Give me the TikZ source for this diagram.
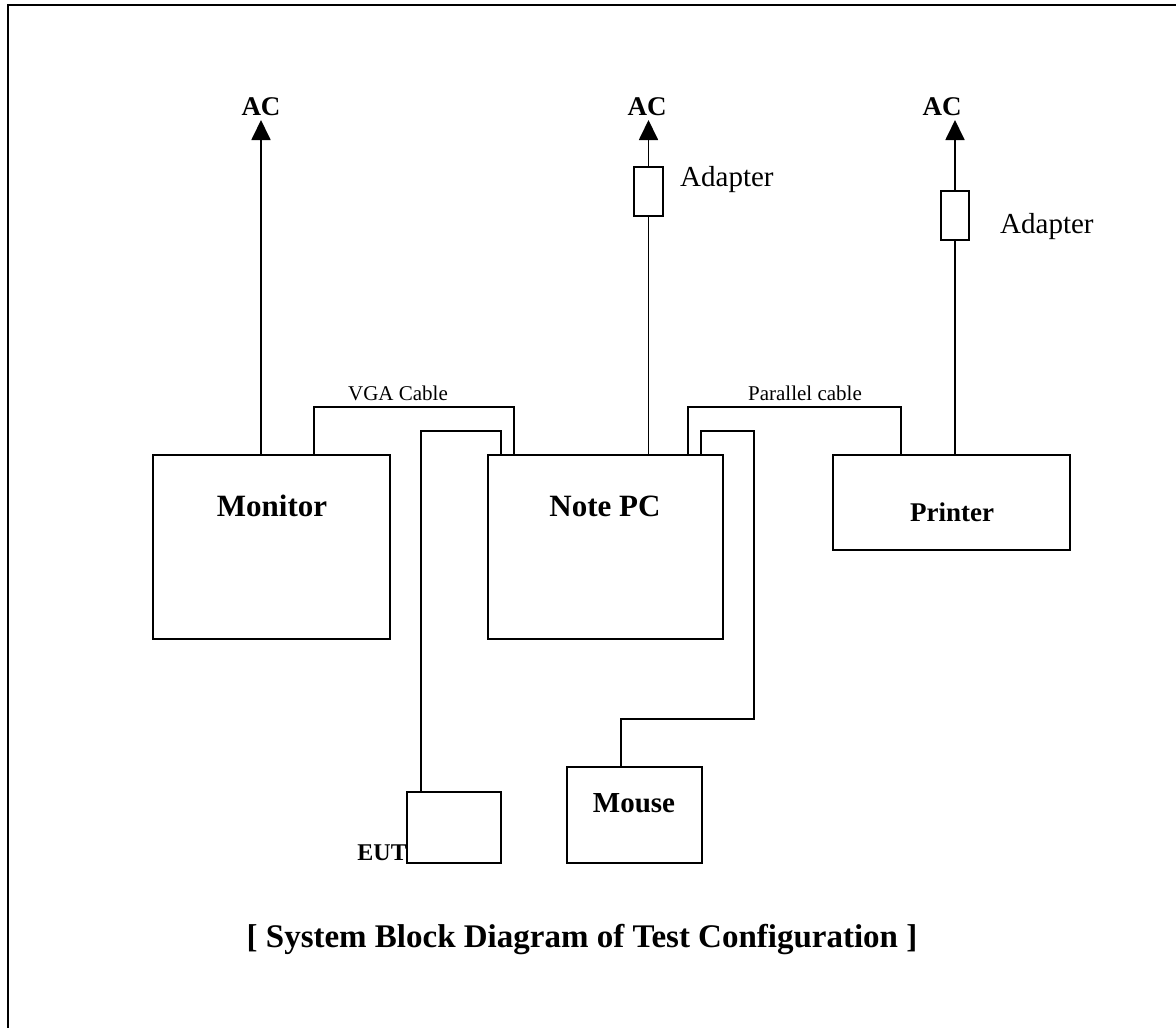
\documentclass[tikz,border=0pt]{standalone}
\usepackage{fontspec}
\setmainfont{Liberation Serif}
\usetikzlibrary{arrows.meta}
\begin{document}
\begin{tikzpicture}[x=1pt,y=-1pt,
  box/.style={draw,line width=1.8pt,inner sep=0pt,outer sep=0pt,anchor=north west},
  wire/.style={line width=1.8pt},
  power/.style={line width=1.8pt,-{Triangle[length=20pt,width=19pt]}},
  lbl/.style={inner sep=0pt},
  aclbl/.style={lbl,font=\fontsize{27}{30}\selectfont\bfseries},
  devlbl/.style={lbl,font=\fontsize{31}{34}\selectfont\bfseries},
  adlbl/.style={lbl,anchor=west,font=\fontsize{29}{32}\selectfont},
  cablbl/.style={lbl,font=\fontsize{21}{24}\selectfont}]
\useasboundingbox (0,0) rectangle (1176,1028);
\draw[line width=2pt] (7.5,1040) -- (7.5,5) -- (1190,5);
% boxes
\node[box,minimum width=237pt,minimum height=184pt] (mon) at (153,455) {};
\node[box,minimum width=235pt,minimum height=184pt] (pc) at (488,455) {};
\node[box,minimum width=237pt,minimum height=95pt] (prn) at (833,455) {};
\node[box,minimum width=94pt,minimum height=71pt] (eut) at (407,792) {};
\node[box,minimum width=135pt,minimum height=96pt] (mouse) at (567,767) {};
\node[box,minimum width=29pt,minimum height=49pt] (adpc) at (634,167) {};
\node[box,minimum width=28pt,minimum height=49pt] (adpr) at (941,191) {};
% labels
\node[devlbl] (tmon) at (272,506) {Monitor};
\node[devlbl] (tpc) at (605,506) {Note PC};
\node[devlbl,font=\fontsize{27}{30}\selectfont\bfseries] (tprn) at (952,512) {Printer};
\node[devlbl,font=\fontsize{29}{32}\selectfont\bfseries] (tmouse) at (634,803) {Mouse};
\node[lbl,anchor=south east,font=\fontsize{24}{27}\selectfont\bfseries] (teut) at (407,861) {EUT};
\node[adlbl] (tadpc) at (680,180) {Adapter};
\node[adlbl] (tadpr) at (1000,227) {Adapter};
\node[cablbl] (tvga) at (398,393) {VGA Cable};
\node[cablbl] (tpar) at (805,393) {Parallel cable};
% AC
\coordinate (acm) at (261,120);
\coordinate (acp) at (648.5,120);
\coordinate (acr) at (955,120);
\node[aclbl] (tacm) at (261,107) {AC};
\node[aclbl] (tacp) at (647,107) {AC};
\node[aclbl] (tacr) at (942,107) {AC};
% power wires
\draw[power] (mon.north -| acm) -- (acm);
\draw[wire] (pc.north -| adpc.south) -- (adpc.south);
\draw[power] (adpc.north) -- (acp);
\draw[wire] (prn.north -| adpr.south) -- (adpr.south);
\draw[power] (adpr.north) -- (acr);
% cables
\coordinate (vga1) at (314,407);
\coordinate (vga2) at (514,407);
\draw[wire] (mon.north -| vga1) -- (vga1) -- (vga2) -- (pc.north -| vga2);
\coordinate (eut1) at (421,431);
\coordinate (eut2) at (501,431);
\draw[wire] (eut.north -| eut1) -- (eut1) -- (eut2) -- (pc.north -| eut2);
\coordinate (par1) at (688,407);
\coordinate (par2) at (901,407);
\draw[wire] (pc.north -| par1) -- (par1) -- (par2) -- (prn.north -| par2);
\coordinate (ms1) at (701,431);
\coordinate (ms2) at (754,431);
\coordinate (ms3) at (754,719);
\coordinate (ms4) at (621,719);
\draw[wire] (pc.north -| ms1) -- (ms1) -- (ms2) -- (ms3) -- (ms4) -- (mouse.north -| ms4);
% title
\node[lbl,font=\fontsize{33}{36}\selectfont\bfseries] (title) at (582,940) {[ System Block Diagram of Test Configuration ]};
\end{tikzpicture}
\end{document}
